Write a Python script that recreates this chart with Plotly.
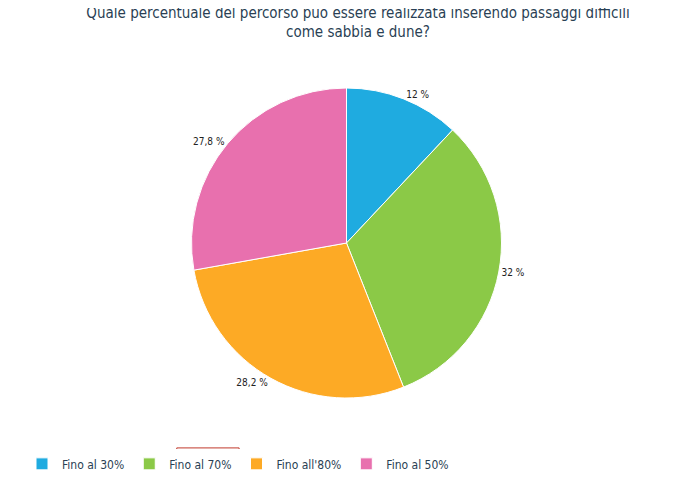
import plotly.graph_objects as go

labels = ["Fino al 30%", "Fino al 70%", "Fino all'80%", "Fino al 50%"]
values = [12, 32, 28.2, 27.8]
colors = ["#1fabe0", "#8bc947", "#fdaa25", "#e870ae"]

fig = go.Figure(go.Pie(
    labels=labels, values=values, sort=False, direction="clockwise", rotation=0,
    marker=dict(colors=colors, line=dict(color="white", width=1)),
    textposition="outside", texttemplate="%{value} %", textfont=dict(size=10, color="#222"),
    hoverinfo="label+value",
))
fig.update_layout(
    width=700, height=485, separators=",.",
    font=dict(family="DejaVu Sans Condensed, DejaVu Sans", color="#2a3f54"),
    title=dict(text="Quale percentuale del percorso può essere realizzata inserendo passaggi difficili<br>come sabbia e dune?",
               x=0.5, xanchor="center", y=0.98, yanchor="top", font=dict(size=15, color="#2a3f54")),
    margin=dict(t=80, b=95, l=0, r=0),
    paper_bgcolor="white",
    legend=dict(orientation="h", xref="container", yref="container", x=0.02, xanchor="left",
                y=0.09, yanchor="top", itemwidth=30, font=dict(size=12, color="#2a3f54")),
)
fig.add_shape(type="rect", xref="paper", yref="paper", x0=105/700, x1=195/700, y0=-0.235, y1=-0.161,
              line=dict(color="#c0392b", width=1))
fig.write_html("out.html")
